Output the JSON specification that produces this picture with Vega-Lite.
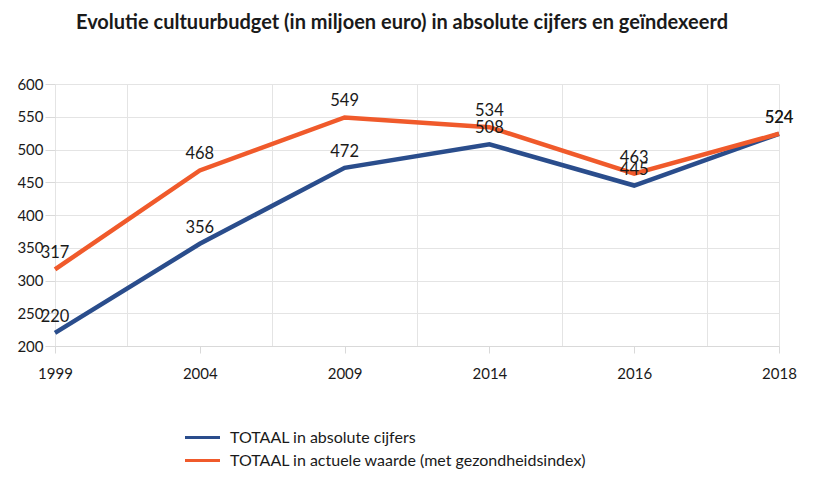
{
  "$schema": "https://vega.github.io/schema/vega-lite/v6.json",
  "width": 724,
  "height": 262,
  "autosize": {"type": "none"},
  "padding": {"left": 55, "top": 84, "right": 50, "bottom": 137},
  "background": "white",
  "title": {
    "text": "Evolutie cultuurbudget (in miljoen euro) in absolute cijfers en geïndexeerd",
    "font": "Lato",
    "fontSize": 20,
    "fontWeight": "bold",
    "color": "#1a1a1a",
    "anchor": "middle",
    "dx": -15,
    "offset": 44
  },
  "config": {
    "view": {"stroke": null},
    "font": "Lato",
    "axis": {
      "labelFont": "Lato",
      "labelFontSize": 15,
      "labelColor": "#1a1a1a",
      "gridColor": "#e4e4e4",
      "gridWidth": 1,
      "tickColor": "#d9d9d9",
      "domainColor": "#d9d9d9",
      "title": null
    }
  },
  "data": {
    "values": [
      {"pos": 0, "year": "1999", "series": "TOTAAL in absolute cijfers", "value": 220},
      {"pos": 1, "year": "2004", "series": "TOTAAL in absolute cijfers", "value": 356},
      {"pos": 2, "year": "2009", "series": "TOTAAL in absolute cijfers", "value": 472},
      {"pos": 3, "year": "2014", "series": "TOTAAL in absolute cijfers", "value": 508},
      {"pos": 4, "year": "2016", "series": "TOTAAL in absolute cijfers", "value": 445},
      {"pos": 5, "year": "2018", "series": "TOTAAL in absolute cijfers", "value": 524},
      {"pos": 0, "year": "1999", "series": "TOTAAL in actuele waarde (met gezondheidsindex)", "value": 317},
      {"pos": 1, "year": "2004", "series": "TOTAAL in actuele waarde (met gezondheidsindex)", "value": 468},
      {"pos": 2, "year": "2009", "series": "TOTAAL in actuele waarde (met gezondheidsindex)", "value": 549},
      {"pos": 3, "year": "2014", "series": "TOTAAL in actuele waarde (met gezondheidsindex)", "value": 534},
      {"pos": 4, "year": "2016", "series": "TOTAAL in actuele waarde (met gezondheidsindex)", "value": 463},
      {"pos": 5, "year": "2018", "series": "TOTAAL in actuele waarde (met gezondheidsindex)", "value": 524}
    ]
  },
  "encoding": {
    "x": {
      "field": "pos",
      "type": "quantitative",
      "scale": {"domain": [0, 5], "nice": false, "zero": false},
      "axis": {
        "values": [0, 0.5, 1, 1.5, 2, 2.5, 3, 3.5, 4, 4.5, 5],
        "labelExpr": "datum.value % 1 ? '' : ['1999','2004','2009','2014','2016','2018'][datum.value]",
        "grid": true,
        "gridOpacity": {"condition": {"test": "datum.value % 1 === 0.5 || datum.value === 0 || datum.value === 5", "value": 1}, "value": 0},
        "tickOpacity": {"condition": {"test": "datum.value % 1 === 0", "value": 1}, "value": 0},
        "tickSize": 7,
        "labelPadding": 13,
        "labelFlush": false,
        "labelOverlap": false,
        "domain": true
      }
    },
    "y": {
      "field": "value",
      "type": "quantitative",
      "scale": {"domain": [200, 600], "nice": false, "zero": false},
      "axis": {
        "values": [200, 250, 300, 350, 400, 450, 500, 550, 600],
        "domain": false,
        "tickSize": 10,
        "labelPadding": 2,
        "grid": true
      }
    },
    "color": {
      "field": "series",
      "type": "nominal",
      "scale": {
        "domain": ["TOTAAL in absolute cijfers", "TOTAAL in actuele waarde (met gezondheidsindex)"],
        "range": ["#2a4d8c", "#f05a2b"]
      },
      "legend": {
        "title": null,
        "orient": "none",
        "legendX": 139,
        "legendY": 345,
        "direction": "vertical",
        "symbolType": "M-2.5,0H2.5",
        "symbolSize": 196,
        "symbolStrokeWidth": 3,
        "symbolFillColor": "transparent",
        "labelFont": "Lato",
        "labelFontSize": 16,
        "labelColor": "#1a1a1a",
        "labelLimit": 0,
        "rowPadding": 6,
        "labelOffset": 19
      }
    }
  },
  "layer": [
    {
      "mark": {"type": "line", "strokeWidth": 4.5, "strokeJoin": "miter"}
    },
    {
      "mark": {"type": "text", "baseline": "bottom", "dy": -8, "fontSize": 16.5, "font": "Lato", "color": "#1a1a1a"},
      "encoding": {
        "text": {"field": "value", "type": "quantitative"},
        "color": {"value": "#1a1a1a"}
      }
    }
  ]
}
